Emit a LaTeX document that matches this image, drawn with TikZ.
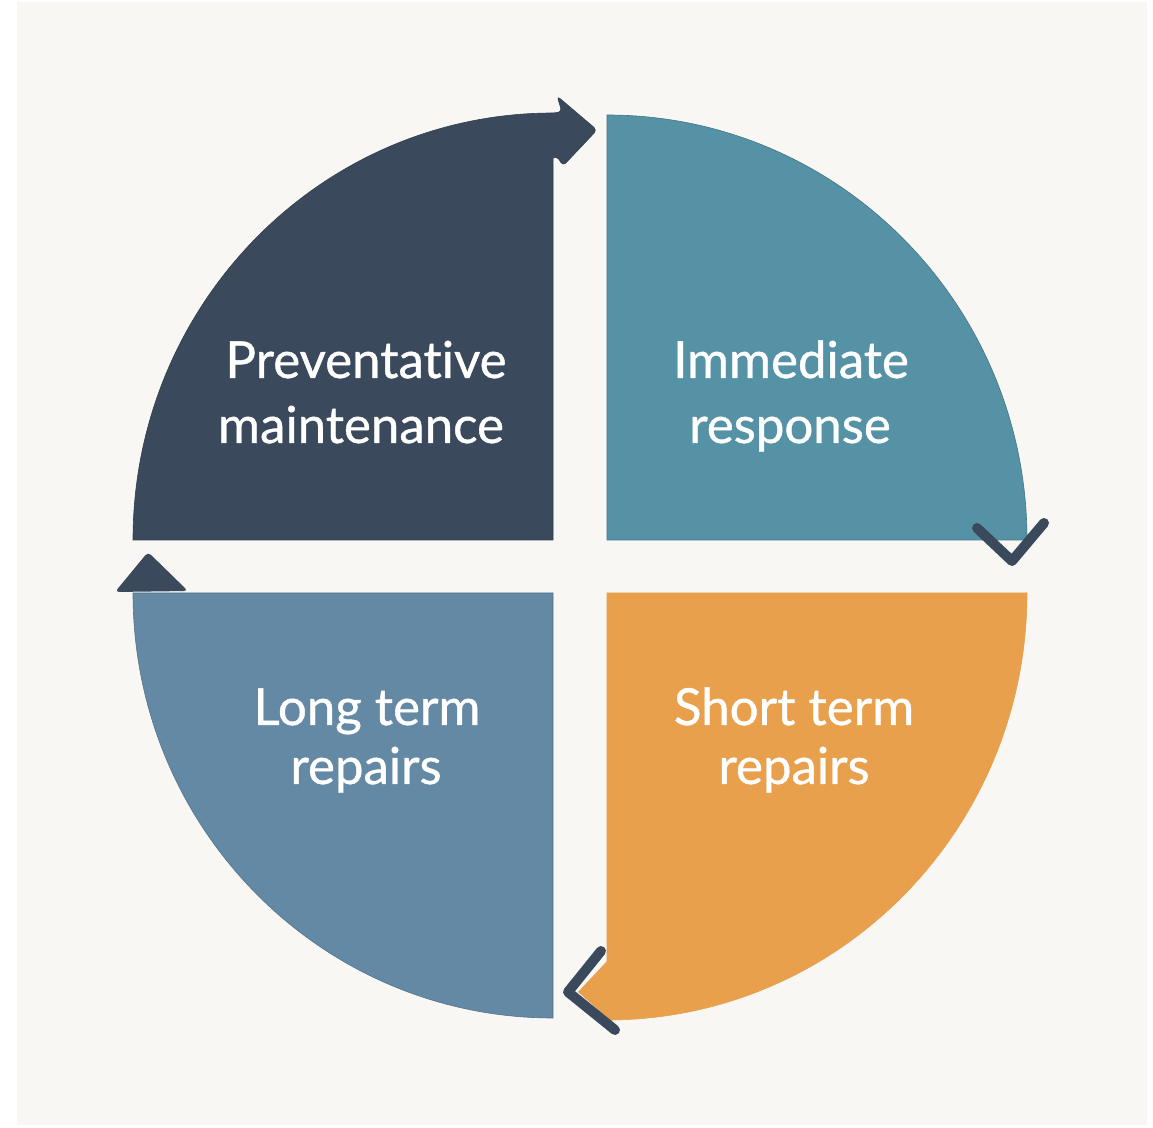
\documentclass[tikz,border=0pt]{standalone}
\usepackage{fontspec}
\setmainfont{Lato}[Ligatures=NoCommon, FakeBold=0.8]
\definecolor{bgc}{HTML}{F8F7F3}
\definecolor{darkc}{HTML}{3A4A5C}
\definecolor{tealc}{HTML}{5592A6}
\definecolor{orangec}{HTML}{E8A04C}
\definecolor{steelc}{HTML}{6389A5}
\tikzset{
  quad/.style={line width=0.6pt},
  label/.style={text=white, font=\fontsize{51}{60}\selectfont, anchor=base, inner sep=0pt},
  chev/.style={draw=darkc, line width=10pt, line cap=round, line join=round},
}
\begin{document}
\begin{tikzpicture}[x=1pt,y=1pt]
\useasboundingbox (0,0) rectangle (1153,1127);
\fill[white] (0,0) rectangle (1153,1127);
\fill[bgc] (17,2) rectangle (1147,1125);
% top-left quadrant with arrow head
\filldraw[quad, fill=darkc, draw=darkc!85!black]
  (553,587) -- (133,587) arc[start angle=180, end angle=90, x radius=420, y radius=427]
  [rounded corners=4pt] -- (562,1015) -- (557,1031) -- (597,997) -- (563,961) -- (557,971) [sharp corners] -- (553,969) -- cycle;
% top-right quadrant
\filldraw[quad, fill=tealc, draw=tealc!80!black]
  (607,587) -- (607,1012) arc[start angle=90, end angle=0, x radius=420, y radius=425] -- cycle;
% bottom-right quadrant
\filldraw[quad, fill=orangec, draw=orangec]
  (607,534) -- (1027,534) arc[start angle=0, end angle=-90, x radius=420, y radius=427] -- cycle;
\fill[orangec] (608,167) -- (578,135) -- (612,105) -- (612,167) -- cycle;
% bottom-left quadrant
\filldraw[quad, fill=steelc, draw=steelc!85!black]
  (553,534) -- (133,534) arc[start angle=180, end angle=270, x radius=420, y radius=425] -- cycle;
% arrow marks
\coordinate (c1a) at (977,599);
\coordinate (c1b) at (1012,566);
\coordinate (c1c) at (1044,604);
\draw[chev] (c1a) -- (c1b) -- (c1c);
\coordinate (c2a) at (601,176);
\coordinate (c2b) at (568,135);
\coordinate (c2c) at (615,97);
\draw[chev] (c2a) -- (c2b) -- (c2c);
\fill[darkc, rounded corners=4pt] (115,535) -- (148,575) -- (188,536) -- cycle;
% labels
\node[label] (pm1) at (366,749) {Preventative};
\node[label] (pm2) at (361,684) {maintenance};
\node[label] (ir1) at (791,749) {Immediate};
\node[label] (ir2) at (790,684) {response};
\node[label] (lt1) at (367,402) {Long term};
\node[label] (lt2) at (366,343) {repairs};
\node[label] (st1) at (794,402) {Short term};
\node[label] (st2) at (794,343) {repairs};
\end{tikzpicture}
\end{document}
